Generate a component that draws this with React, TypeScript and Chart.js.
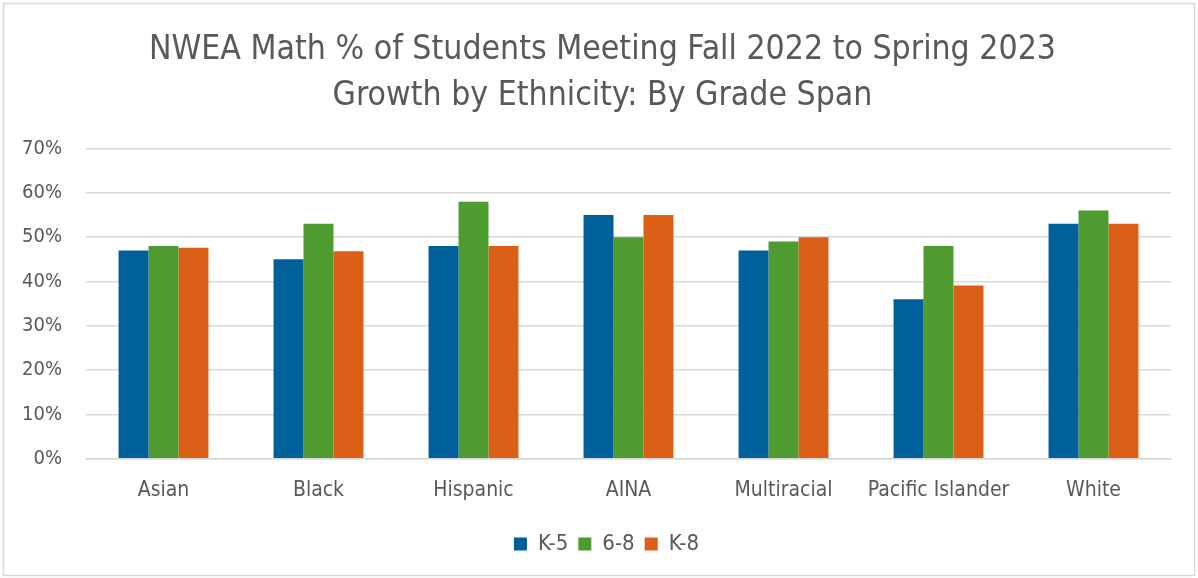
import React, { useEffect, useRef } from 'react';
import { Chart, registerables } from 'chart.js';

Chart.register(...registerables);

const categories = ['Asian', 'Black', 'Hispanic', 'AINA', 'Multiracial', 'Pacific Islander', 'White'];
const k5Values = [47, 45, 48, 55, 47, 36, 53];
const g68Values = [48, 53, 58, 50, 49, 48, 56];
const k8Values = [47.6, 46.8, 48, 55, 50, 39.1, 53];
const seriesLabels = ['K-5', '6-8', 'K-8'];
const seriesColors = ['#00609c', '#4e9c2f', '#dc5f17'];
const titleLines = ['NWEA Math % of Students Meeting Fall 2022 to Spring 2023', 'Growth by Ethnicity: By Grade Span'];
const yMax = 70;
const yStep = 10;

const FONT = "'Liberation Sans Narrow', 'DejaVu Sans Condensed', Roboto, sans-serif";
const TEXT = '#595959';

const framePlugin = {
  id: 'frame',
  beforeDraw(chart: any) {
    const { ctx, width, height } = chart;
    ctx.save();
    ctx.fillStyle = '#ffffff';
    ctx.fillRect(0, 0, width, height);
    ctx.strokeStyle = '#d9d9d9';
    ctx.lineWidth = 1.5;
    ctx.strokeRect(3.5, 3.5, width - 7, height - 6);
    ctx.restore();
  },
};

const boxShift = {
  id: 'boxShift',
  afterLayout(chart: any) {
    const l = chart.legend;
    if (l) {
      l.left += 11;
      l.right += 11;
      l.top += 1;
      l.bottom += 1;
    }
    const t = chart.titleBlock;
    if (t) {
      t.left += 7;
      t.right += 7;
    }
  },
};

export default function App() {
  const ref = useRef<HTMLCanvasElement | null>(null);
  useEffect(() => {
    document.body.style.margin = '0';
    const datasets = [k5Values, g68Values, k8Values].map((d, i) => ({
      label: seriesLabels[i],
      data: d,
      backgroundColor: seriesColors[i],
      borderWidth: 0,
      categoryPercentage: 0.58,
      barPercentage: 1.0,
    }));
    const chart = new Chart(ref.current as HTMLCanvasElement, {
      type: 'bar',
      data: { labels: categories, datasets },
      plugins: [framePlugin, boxShift],
      options: {
        responsive: false,
        animation: false,
        layout: { padding: { left: 20, right: 27, top: 0, bottom: 14 } },
        plugins: {
          title: {
            display: true,
            text: titleLines,
            color: TEXT,
            font: { family: FONT, size: 33.5, weight: 'normal', lineHeight: 1.38 },
            padding: { top: 27, bottom: 29 },
          },
          legend: {
            position: 'bottom',
            labels: {
              color: TEXT,
              font: { family: FONT, size: 22 },
              boxWidth: 13,
              boxHeight: 13,
              padding: 10,
            },
          },
          tooltip: { enabled: false },
        },
        scales: {
          x: {
            grid: { display: false, drawTicks: false },
            border: { display: true, color: '#d9d9d9', width: 1.5 },
            ticks: { color: TEXT, font: { family: FONT, size: 21 }, padding: 19, maxRotation: 0 },
          },
          y: {
            min: 0,
            max: yMax,
            afterFit(scale: any) {
              scale.width = 66;
            },
            grid: { color: '#d9d9d9', lineWidth: 1.5, drawTicks: false },
            border: { display: false },
            ticks: {
              stepSize: yStep,
              color: TEXT,
              font: { family: FONT, size: 20 },
              padding: 24,
              callback: (v: any) => `${v}%`,
            },
          },
        },
      },
    });
    return () => chart.destroy();
  }, []);
  return (
    <div style={{ width: 1198, height: 578 }}>
      <canvas ref={ref} width={1198} height={578} style={{ display: 'block' }} />
    </div>
  );
}
